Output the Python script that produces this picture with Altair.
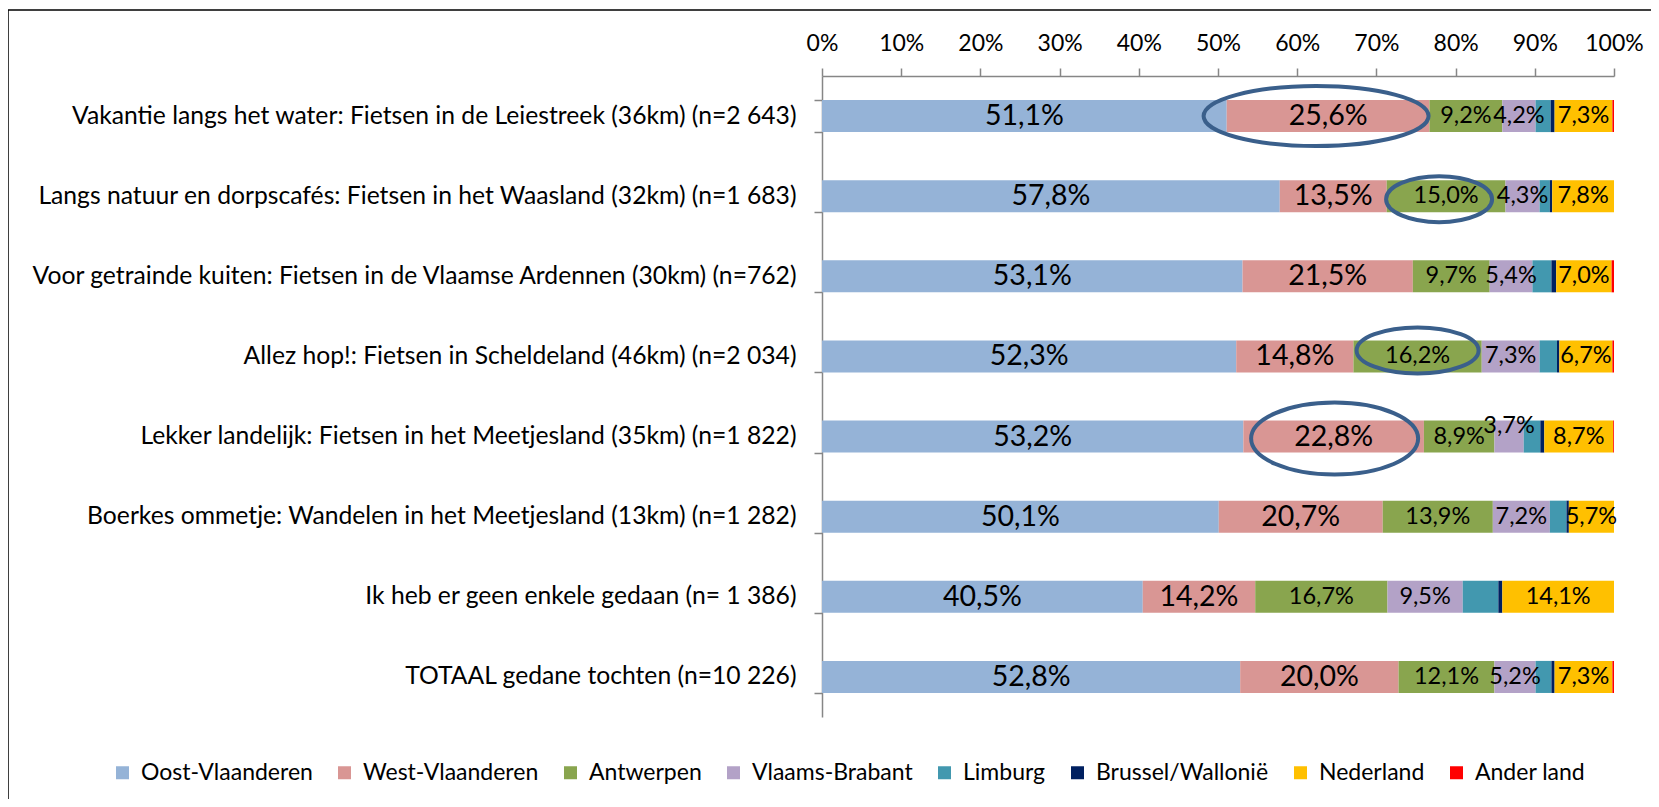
import altair as alt
import pandas as pd

categories = [
    "Vakantie langs het water: Fietsen in de Leiestreek (36km) (n=2 643)",
    "Langs natuur en dorpscafés: Fietsen in het Waasland (32km) (n=1 683)",
    "Voor getrainde kuiten: Fietsen in de Vlaamse Ardennen (30km) (n=762)",
    "Allez hop!: Fietsen in Scheldeland (46km) (n=2 034)",
    "Lekker landelijk: Fietsen in het Meetjesland (35km) (n=1 822)",
    "Boerkes ommetje: Wandelen in het Meetjesland (13km) (n=1 282)",
    "Ik heb er geen enkele gedaan (n= 1 386)",
    "TOTAAL gedane tochten (n=10 226)",
]

regions = ["Oost-Vlaanderen", "West-Vlaanderen", "Antwerpen", "Vlaams-Brabant",
           "Limburg", "Brussel/Wallonië", "Nederland", "Ander land"]

oost_vlaanderen = [51.1, 57.8, 53.1, 52.3, 53.2, 50.1, 40.5, 52.8]
west_vlaanderen = [25.6, 13.5, 21.5, 14.8, 22.8, 20.7, 14.2, 20.0]
antwerpen = [9.2, 15.0, 9.7, 16.2, 8.9, 13.9, 16.7, 12.1]
vlaams_brabant = [4.2, 4.3, 5.4, 7.3, 3.7, 7.2, 9.5, 5.2]
limburg = [1.9, 1.3, 2.4, 2.2, 2.1, 2.1, 4.5, 2.0]
brussel_wallonie = [0.5, 0.3, 0.6, 0.3, 0.5, 0.3, 0.5, 0.4]
nederland = [7.3, 7.8, 7.0, 6.7, 8.7, 5.7, 14.1, 7.3]
ander_land = [0.2, 0.0, 0.3, 0.2, 0.1, 0.0, 0.0, 0.2]

series = [oost_vlaanderen, west_vlaanderen, antwerpen, vlaams_brabant,
          limburg, brussel_wallonie, nederland, ander_land]

colors = ["#95B3D7", "#D99694", "#89A54E", "#B3A2C7",
          "#4298AF", "#002060", "#FFC000", "#FF0000"]

# which series carry a value label, and which use the large font
labelled = {"Oost-Vlaanderen", "West-Vlaanderen", "Antwerpen", "Vlaams-Brabant", "Nederland"}
large = {"Oost-Vlaanderen", "West-Vlaanderen"}
label_dy = {(4, "Vlaams-Brabant"): -11}

# highlighted segments (category index, region) with ellipse geometry (style)
highlights = [(0, "West-Vlaanderen"), (1, "Antwerpen"), (3, "Antwerpen"), (4, "West-Vlaanderen")]
ellipse_style = [
    dict(w=225, h=60, dx=-12, dy=0),
    dict(w=106, h=46, dx=-7, dy=3),
    dict(w=122, h=46, dx=0, dy=-6),
    dict(w=167, h=72, dx=1, dy=2),
]

rows = []
for ci, cat in enumerate(categories):
    acc = 0.0
    for ri, reg in enumerate(regions):
        v = series[ri][ci]
        start, end = acc, acc + v
        acc = end
        rows.append(dict(
            category=cat, region=reg, value=v, start=start, end=end, mid=(start + end) / 2,
            label=(f"{v:.1f}%".replace(".", ",") if reg in labelled else ""),
            fs=(28.5 if reg in large else 23.5),
            dy=label_dy.get((ci, reg), 0),
        ))
df = pd.DataFrame(rows)

FONT = "Lato"
AXIS_GREY = "#868686"

x_scale = alt.Scale(domain=[0, 100], nice=False)
y_enc = alt.Y(
    "category:N", sort=categories, title=None,
    scale=alt.Scale(paddingInner=0.6, paddingOuter=0.3),
    axis=alt.Axis(tickBand="extent", tickSize=8, tickColor=AXIS_GREY, domainColor=AXIS_GREY,
                  labelFont=FONT, labelFontSize=24.7, labelColor="#000000", labelPadding=18,
                  labelLimit=900, domainWidth=1.5, tickWidth=1.5),
)

bars = alt.Chart(df).mark_bar().encode(
    x=alt.X("start:Q", scale=x_scale, title=None,
            axis=alt.Axis(orient="top", values=list(range(0, 101, 10)),
                          labelExpr="datum.value + '%'", tickSize=8, tickColor=AXIS_GREY,
                          domainColor=AXIS_GREY, labelFont=FONT, labelFontSize=23,
                          labelColor="#000000", labelPadding=13, grid=False,
                          labelFlush=False, labelOverlap=False,
                          domainWidth=1.5, tickWidth=1.5)),
    x2="end:Q",
    y=y_enc,
    color=alt.Color("region:N", scale=alt.Scale(domain=regions, range=colors), title=None,
                    legend=alt.Legend(orient="none", legendX=-711, legendY=685, direction="horizontal",
                                      symbolType="square", symbolSize=169, symbolStrokeWidth=0,
                                      labelFont=FONT, labelFontSize=23, labelColor="#000000",
                                      labelOffset=7, columnPadding=20, labelLimit=400,
                                      columns=8)),
)

text_layers = []
for dyv in sorted(df["dy"].unique()):
    sub = df[(df["label"] != "") & (df["dy"] == dyv)]
    text_layers.append(
        alt.Chart(sub).mark_text(
            font=FONT, color="#000000", align="center", baseline="middle", dy=float(dyv)
        ).encode(
            x=alt.X("mid:Q", scale=x_scale, title=None),
            y=alt.Y("category:N", sort=categories, title=None),
            text="label:N",
            size=alt.Size("fs:Q", scale=None, legend=None),
        )
    )

ellipse_layers = []
for (ci, reg), st in zip(highlights, ellipse_style):
    k = st["h"] / st["w"]
    path = f"M -1 0 A 1 {k:.4f} 0 1 1 1 0 A 1 {k:.4f} 0 1 1 -1 0 Z"
    sub = df[(df["category"] == categories[ci]) & (df["region"] == reg)]
    ellipse_layers.append(
        alt.Chart(sub).mark_point(shape=path, size=st["w"] ** 2, filled=False,
                                  stroke="#3A5F8B", strokeWidth=4, opacity=1,
                                  xOffset=st["dx"], yOffset=st["dy"]).encode(
            x=alt.X("mid:Q", scale=x_scale, title=None),
            y=alt.Y("category:N", sort=categories, title=None),
        )
    )

frame = alt.Chart(pd.DataFrame({"f": [0]})).mark_rect(
    fillOpacity=0, stroke="#000000", strokeWidth=1.5
).encode(x=alt.value(-814), x2=alt.value(900), y=alt.value(-66), y2=alt.value(780))

chart = alt.layer(frame, bars, *ellipse_layers, *text_layers).properties(
    width=792, height=641,
    autosize=alt.AutoSizeParams(type="none"),
    padding={"left": 814, "top": 68, "right": 37, "bottom": 82},
    background="#FFFFFF",
).configure_view(stroke=None)

chart.save("out.html", embed_options={"renderer": "svg", "actions": False})
